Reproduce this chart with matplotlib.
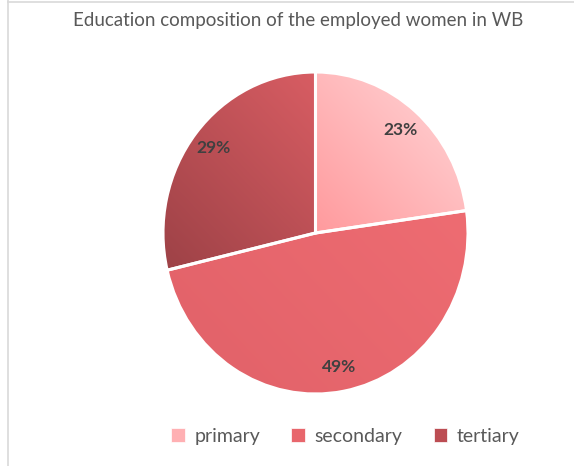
import numpy as np
import matplotlib
matplotlib.use("Agg")
import matplotlib.pyplot as plt
from matplotlib.colors import LinearSegmentedColormap
from matplotlib.patches import Patch
from matplotlib.lines import Line2D

# education share of employed women (%)
levels = ["primary", "secondary", "tertiary"]
shares = [23, 49, 29]
# light/dark ends of each slice's gradient fill
light = ["#FFC6C8", "#EE6C72", "#D85D63"]
dark = ["#FF9A9D", "#E3636A", "#9E4247"]
legend_cols = ["#FFB0B3", "#E8666C", "#BC4D53"]

plt.rcParams["font.family"] = ["Lato", "DejaVu Sans"]

fig = plt.figure(figsize=(5.74, 4.66), dpi=100)
W, H = 574, 466
# pie is a little taller than wide
ax = fig.add_axes([163 / W, 72 / H, 305 / W, 322 / H])

wedges, _ = ax.pie(shares, startangle=90, counterclock=False, radius=1,
                   wedgeprops=dict(linewidth=2.2, edgecolor="white"))
ax.set_aspect("auto")
ax.set_xlim(-1, 1)
ax.set_ylim(-1, 1)

# gradient fill, light in the upper right, dark in the lower left
xx, yy = np.meshgrid(np.linspace(-1, 1, 400), np.linspace(-1, 1, 400))
diag = xx + yy
for w, lo, hi in zip(wedges, dark, light):
    verts = w.get_path().vertices
    s = verts[:, 0] + verts[:, 1]
    t = np.clip((diag - s.min()) / (s.max() - s.min()), 0, 1)
    cmap = LinearSegmentedColormap.from_list("g", [lo, hi])
    im = ax.imshow(t, cmap=cmap, extent=[-1, 1, -1, 1], origin="lower",
                   aspect="auto", zorder=1, interpolation="bilinear")
    im.set_clip_path(w)
    w.set_facecolor("none")
    w.set_zorder(2)

# percentage labels, placed out towards the rim
cum = np.cumsum([0] + shares)
tot = float(sum(shares))
for i, v in enumerate(shares):
    mid = 90 - 360 * (cum[i] + v / 2) / tot
    r = 0.85
    ax.text(r * np.cos(np.radians(mid)), r * np.sin(np.radians(mid)),
            f"{v}%", ha="center", va="center", fontsize=12.5,
            fontweight="bold", color="#404040", zorder=3)

fig.text(0.519, 0.957, "Education composition of the employed women in WB",
         ha="center", va="center", fontsize=13.5, color="#595959")

handles = [Patch(facecolor=c, edgecolor="white", linewidth=0.5) for c in legend_cols]
fig.legend(handles, levels, loc="center", bbox_to_anchor=(0.602, 0.064),
           ncol=3, frameon=False, fontsize=14, labelcolor="#595959",
           handlelength=0.7, handleheight=0.7, handletextpad=0.5,
           columnspacing=1.6)

# thin chart-area border on left and top
fig.add_artist(Line2D([7.5 / W, 7.5 / W], [0, 1], color="#D9D9D9", lw=1.2))
fig.add_artist(Line2D([7.5 / W, 1], [1 - 1.5 / H, 1 - 1.5 / H], color="#D9D9D9", lw=1.2))

fig.savefig("out.png", dpi=100, facecolor="white")
